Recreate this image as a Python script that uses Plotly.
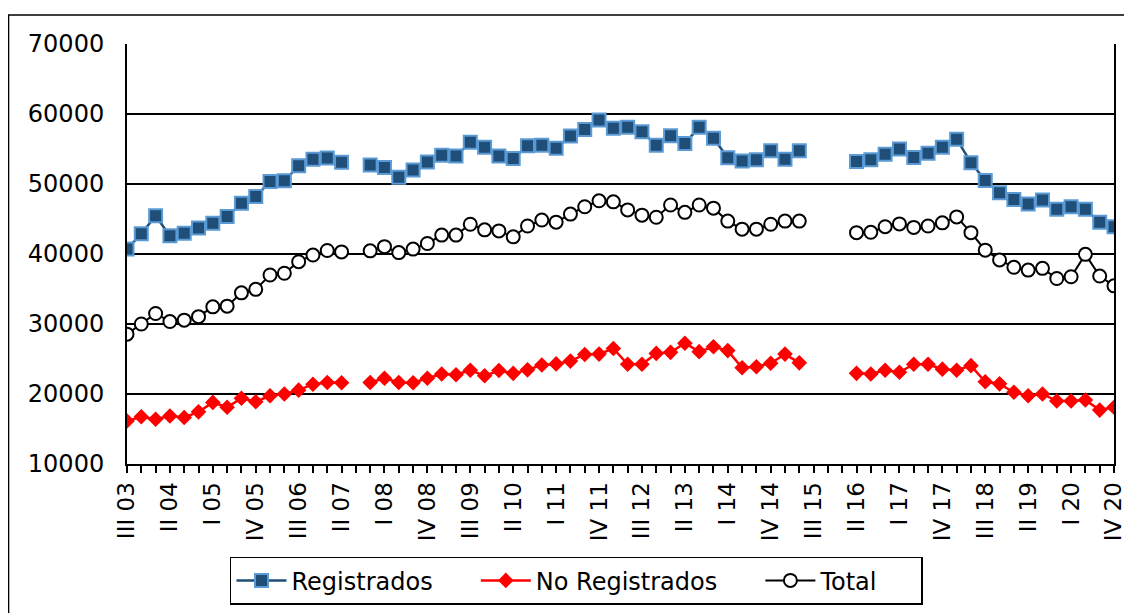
import plotly.graph_objects as go

# ---- data (quarters III 03 .. IV 20) ----
roman = ["I", "II", "III", "IV"]
quarters = []
for yr in range(2003, 2021):
    for q in range(4):
        if yr == 2003 and q < 2:
            continue
        quarters.append(f"{roman[q]} {yr % 100:02d}")

tick_labels = ["III 03", "II 04", "I 05", "IV 05", "III 06", "II 07", "I 08", "IV 08",
               "III 09", "II 10", "I 11", "IV 11", "III 12", "II 13", "I 14", "IV 14",
               "III 15", "II 16", "I 17", "IV 17", "III 18", "II 19", "I 20", "IV 20"]

registrados = [40700, 42900, 45450, 42600, 42950, 43700, 44400, 45350, 47250, 48200,
               50350, 50450, 52600, 53550, 53700, 53100, None, 52700, 52350, 50950,
               52000, 53150, 54100, 54000, 55950, 55250, 54000, 53650, 55450, 55550,
               55100, 56850, 57800, 59150, 57950, 58100, 57450, 55550, 56900, 55800,
               58100, 56550, 53750, 53300, 53450, 54750, 53550, 54750, None, None,
               None, 53200, 53450, 54250, 55000, 53800, 54400, 55250, 56400, 53050,
               50500, 48750, 47800, 47150, 47700, 46400, 46750, 46400, 44550, 43900]

no_registrados = [16150, 16750, 16400, 16850, 16650, 17450, 18800, 18100, 19400, 18900,
                  19750, 20000, 20550, 21400, 21650, 21600, None, 21650, 22250, 21650,
                  21600, 22250, 22850, 22750, 23400, 22600, 23350, 22950, 23450, 24150,
                  24300, 24700, 25650, 25700, 26500, 24250, 24250, 25800, 25950, 27250,
                  26050, 26750, 26200, 23750, 23900, 24400, 25700, 24450, None, None,
                  None, 22950, 22850, 23400, 23100, 24250, 24250, 23550, 23400, 24050,
                  21750, 21450, 20250, 19750, 20000, 19000, 19000, 19150, 17700, 18100]

total = [28550, 30000, 31500, 30350, 30550, 31050, 32450, 32550, 34450, 34950,
         37000, 37250, 38900, 39850, 40500, 40300, None, 40450, 41050, 40200,
         40700, 41500, 42700, 42700, 44250, 43450, 43300, 42450, 44000, 44850,
         44550, 45700, 46750, 47600, 47450, 46300, 45550, 45250, 47000, 45950,
         47000, 46550, 44700, 43550, 43550, 44250, 44700, 44700, None, None,
         None, 43050, 43100, 43900, 44300, 43800, 44000, 44450, 45300, 43050,
         40550, 39150, 38100, 37700, 37950, 36500, 36750, 39950, 36850, 35450]

series_names = ["Registrados", "No Registrados", "Total"]
y_ticks = [10000, 20000, 30000, 40000, 50000, 60000, 70000]

x = list(range(len(quarters)))
FONT = "DejaVu Sans"
PAD = "\u00a0" * 5

fig = go.Figure()
fig.add_trace(go.Scatter(
    x=x, y=registrados, name=series_names[0] + PAD, mode="lines+markers",
    line=dict(color="#1F4E79", width=2.5),
    marker=dict(symbol="square", size=13, color="#1F4E79",
                line=dict(color="#5B9BD5", width=2)),
    connectgaps=False))
fig.add_trace(go.Scatter(
    x=x, y=no_registrados, name=series_names[1] + PAD, mode="lines+markers",
    line=dict(color="#FF0000", width=2.5),
    marker=dict(symbol="diamond", size=12, color="#FF0000",
                line=dict(color="#FF0000", width=0)),
    connectgaps=False))
fig.add_trace(go.Scatter(
    x=x, y=total, name=series_names[2] + PAD, mode="lines+markers",
    line=dict(color="#000000", width=2),
    marker=dict(symbol="circle", size=13, color="#FFFFFF",
                line=dict(color="#000000", width=2)),
    connectgaps=False))

tickvals = list(range(len(quarters)))
ticktext = [quarters[i] if quarters[i] in tick_labels else "" for i in tickvals]

# page body has an 8px margin -> figure is 1124x605, shifted by (8, 8)
fig.update_layout(
    width=1124, height=605,
    margin=dict(l=119, r=18, t=36, b=149, autoexpand=False),
    paper_bgcolor="white", plot_bgcolor="white",
    font=dict(family=FONT, color="black", size=24),
    showlegend=True,
    legend=dict(orientation="h", x=0.4554, xanchor="center", y=-0.221, yanchor="top",
                bordercolor="black", borderwidth=1.5, font=dict(size=24, family=FONT),
                bgcolor="white", itemwidth=50),
    xaxis=dict(range=[0, len(quarters) - 1], tickmode="array", tickvals=tickvals,
               ticktext=ticktext, tickangle=-90, ticks="outside", ticklen=7,
               tickwidth=1.5, tickcolor="black", showline=True, linecolor="black",
               linewidth=2, showgrid=False, zeroline=False, automargin=False,
               tickfont=dict(size=23, family=FONT)),
    yaxis=dict(range=[10000, 70000], tickmode="array", tickvals=y_ticks,
               ticktext=[str(v) for v in y_ticks], ticks="", showline=True,
               linecolor="black", linewidth=2, mirror=True, showgrid=True,
               gridcolor="black", gridwidth=1.5, zeroline=False, automargin=False,
               ticklabelstandoff=16, tickfont=dict(size=24, family=FONT)),
    shapes=[dict(type="rect", xref="paper", yref="paper",
                 x0=-0.12, x1=1.05, y0=-0.5, y1=1.069,
                 line=dict(color="black", width=1.5), layer="below")],
)

fig.write_html("out.html")
